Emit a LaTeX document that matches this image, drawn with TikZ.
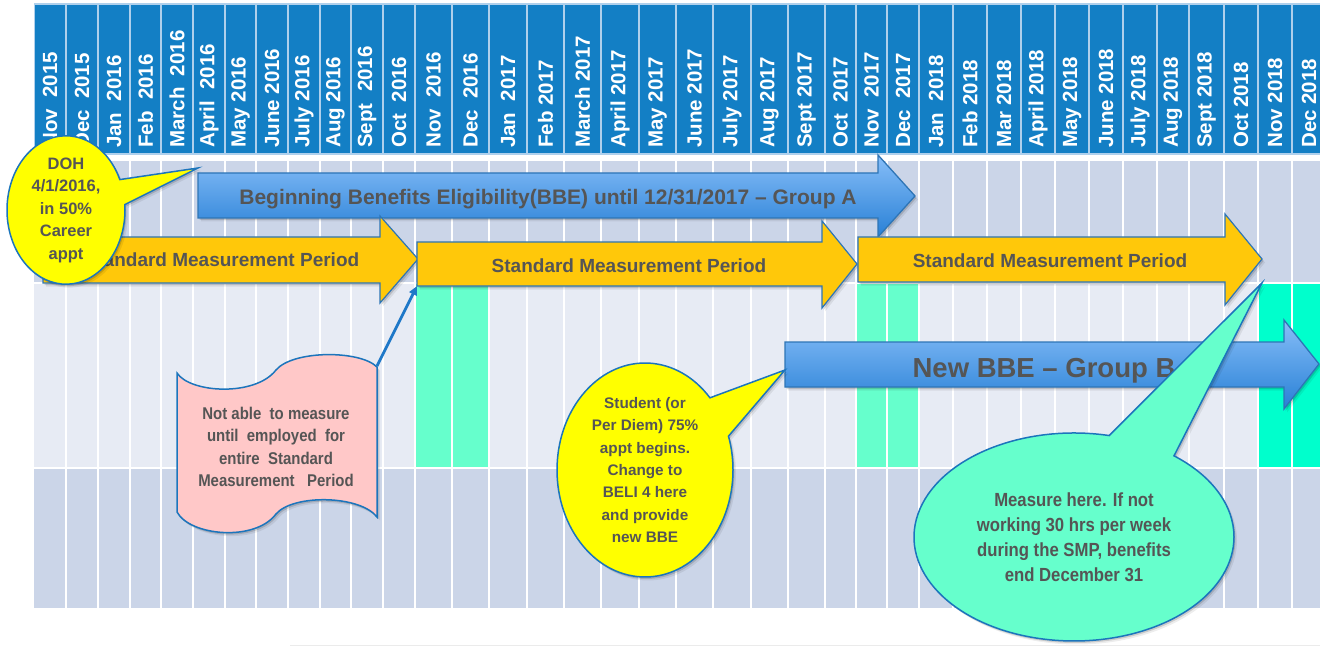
\documentclass[tikz,border=0pt]{standalone}
\usepackage{fontspec}
\setmainfont{Liberation Sans}
\newfontfamily\narrowsans[FakeStretch=0.88]{Liberation Sans}
\usetikzlibrary{shapes.callouts,arrows.meta,shadows}

\definecolor{hdrblue}{RGB}{19,127,197}
\definecolor{hdrline}{RGB}{175,208,236}
\definecolor{rowdark}{RGB}{203,213,232}
\definecolor{rowlight}{RGB}{231,235,244}
\definecolor{mint}{RGB}{102,255,204}
\definecolor{aqua}{RGB}{0,255,204}
\definecolor{smpyellow}{RGB}{255,200,10}
\definecolor{edgeblue}{RGB}{46,117,182}
\definecolor{bbetop}{RGB}{135,190,248}
\definecolor{bbebot}{RGB}{40,128,214}
\definecolor{labelgrey}{RGB}{85,85,85}
\definecolor{bubbleyellow}{RGB}{255,255,0}
\definecolor{bubbleedge}{RGB}{28,117,188}
\definecolor{notepink}{RGB}{255,200,200}
\definecolor{linkblue}{RGB}{30,120,200}

\begin{document}
\begin{tikzpicture}[x=1pt,y=-1pt,
  softshadow/.style={
    drop shadow={shadow xshift=1.5pt, shadow yshift=-2pt, opacity=0.14, fill=black},
    drop shadow={shadow xshift=3pt, shadow yshift=-3.5pt, opacity=0.07, fill=black}},
  hdrcell/.style={fill=hdrblue, draw=hdrline, line width=1.2pt},
  monthlabel/.style={rotate=90, anchor=west, inner sep=0pt, text=white,
    font=\fontsize{20.5}{21}\selectfont\bfseries},
  smparrow/.style={softshadow, fill=smpyellow, draw=edgeblue, line width=1.2pt},
  bbearrow/.style={softshadow, top color=bbetop, bottom color=bbebot, draw=edgeblue, line width=1.3pt},
  arrowtext/.style={text=labelgrey, inner sep=0pt, anchor=base},
  bubble/.style={softshadow, ellipse callout, draw=bubbleedge, line width=1.5pt, inner sep=0pt,
    text=labelgrey, align=center},
]

\useasboundingbox (0,0) rectangle (1320,647);
\clip (0,0) rectangle (1320,647);
\fill[white] (0,0) rectangle (1320,647);

% ---- timeline body: three bands
\fill[rowdark]  (34,161) rectangle (1320,283);
\fill[rowlight] (34,283) rectangle (1320,468);
\fill[rowdark]  (34,468) rectangle (1320,608);
% highlighted Nov/Dec months
\fill[mint] (415,283) rectangle (489,468);
\fill[mint] (856,283) rectangle (919,468);
\fill[aqua] (1258,283) rectangle (1330,468);
% white grid lines
\foreach \x in {66,98,130,161,193,225,256,288,320,351,383,415,452,489,527,564,601,639,676,
  713,751,788,825,856,887,919,953,987,1021,1055,1089,1123,1157,1189,1224,1258,1292}
  \draw[white, line width=2pt] (\x,161) -- (\x,608);
\draw[white, line width=2pt] (34,283) -- (1320,283) (34,468) -- (1320,468);

\draw[black!8, line width=1pt] (290,645.5) -- (1320,645.5);

% ---- month header
\foreach \l/\r/\t [count=\i] in {
  34/66/Nov\ \ 2015, 66/98/Dec\ \ 2015, 98/130/Jan\ \ 2016, 130/161/Feb\ \ 2016,
  161/193/March\ \ 2016, 193/225/April\ \ 2016, 225/256/May 2016, 256/288/June 2016,
  288/320/July 2016, 320/351/Aug 2016, 351/383/Sept\ \ 2016, 383/415/Oct\ \ 2016,
  415/452/Nov\ \ 2016, 452/489/Dec\ \ 2016, 489/527/Jan\ \ 2017, 527/564/Feb 2017,
  564/601/March 2017, 601/639/April 2017, 639/676/May 2017, 676/713/June 2017,
  713/751/July 2017, 751/788/Aug 2017, 788/825/Sept 2017, 825/856/Oct\ \ 2017,
  856/887/Nov\ \ 2017, 887/919/Dec\ \ 2017, 919/953/Jan\ \ 2018, 953/987/Feb 2018,
  987/1021/Mar 2018, 1021/1055/April 2018, 1055/1089/May 2018, 1089/1123/June 2018,
  1123/1157/July 2018, 1157/1189/Aug 2018, 1189/1224/Sept 2018, 1224/1258/Oct 2018,
  1258/1292/Nov 2018, 1292/1326/Dec 2018}
{
  \path[hdrcell] (\l+0.6,4) rectangle (\r-0.6,154);
  \node[monthlabel] (month\i) at ({(\l+\r)/2},148) {\t};
}

% ---- Group A eligibility arrow
\path[bbearrow] (198,173) -- (878,173) -- (878,155) -- (915,196) -- (878,237)
  -- (878,218) -- (198,218) -- cycle;
\node[arrowtext, font=\fontsize{21}{24}\selectfont\bfseries] (bbeA) at (548,204.5)
  {Beginning Benefits Eligibility(BBE) until 12/31/2017 – Group A};

% ---- standard measurement periods
\path[smparrow] (43,237) -- (380,237) -- (380,216) -- (418,259) -- (380,303)
  -- (380,283) -- (43,283) -- cycle;
\node[arrowtext, font=\fontsize{19}{22}\selectfont\bfseries] (smp1) at (222,266)
  {Standard Measurement Period};

\path[smparrow] (417,242) -- (822,242) -- (822,221) -- (857,264) -- (822,308)
  -- (822,286) -- (417,286) -- cycle;
\node[arrowtext, font=\fontsize{19}{22}\selectfont\bfseries] (smp2) at (629,272.5)
  {Standard Measurement Period};
\coordinate (smp2SW) at (417,286);

\path[smparrow] (858,237) -- (1225,237) -- (1225,214) -- (1262,259) -- (1225,305)
  -- (1225,282) -- (858,282) -- cycle;
\node[arrowtext, font=\fontsize{19}{22}\selectfont\bfseries] (smp3) at (1050,267.5)
  {Standard Measurement Period};

% ---- Group B eligibility arrow
\path[bbearrow] (785,342) -- (1284,342) -- (1284,320) -- (1319,364) -- (1284,409)
  -- (1284,387) -- (785,387) -- cycle;
\node[arrowtext, font=\fontsize{27.5}{30}\selectfont\bfseries] (bbeB) at (1044,377)
  {New BBE – Group B};

% ---- note on a waving tape
\path[softshadow, fill=notepink, draw=bubbleedge, line width=1.5pt]
  (177,373) .. controls (190,393) and (255,397) .. (276,370)
  .. controls (293,350) and (360,350) .. (377,367) -- (377,517)
  .. controls (360,495) and (293,494) .. (276,514)
  .. controls (255,542) and (190,536) .. (177,512) -- cycle;
\coordinate (tapeNE) at (377,366);
\node[text=labelgrey, align=center, inner sep=0pt,
  font=\fontsize{17}{22.3}\selectfont\narrowsans\bfseries] (notable) at (276,447)
  {Not able\ \ to measure\\until\ \ employed\ \ for\\entire\ \ Standard\\Measurement\ \ \ Period};
\draw[linkblue, line width=2.8pt, -{Triangle[length=9pt,width=8pt]}] (tapeNE) -- (smp2SW);

% ---- callouts
\node[bubble, fill=bubbleyellow, minimum width=118pt, minimum height=144pt,
  callout absolute pointer={(198,168)}, callout pointer arc=20,
  font=\fontsize{16.5}{22.5}\selectfont\bfseries] (doh) at (66,210)
  {DOH\\4/1/2016,\\in 50\%\\Career\\appt};

\node[bubble, fill=bubbleyellow, minimum width=176pt, minimum height=214pt,
  callout absolute pointer={(785,370)}, callout pointer arc=24,
  font=\fontsize{15.3}{22.3}\selectfont\bfseries] (student) at (645,470)
  {Student (or\\Per Diem) 75\%\\appt begins.\\Change to\\BELI 4 here\\and provide\\new BBE};

\node[bubble, fill=mint, minimum width=320pt, minimum height=208pt,
  callout absolute pointer={(1262,283)}, callout pointer arc=26,
  font=\fontsize{19}{25}\selectfont\narrowsans\bfseries] (measure) at (1074,537)
  {Measure here. If not\\working 30 hrs per week\\during the SMP, benefits\\end December 31};

\end{tikzpicture}
\end{document}
